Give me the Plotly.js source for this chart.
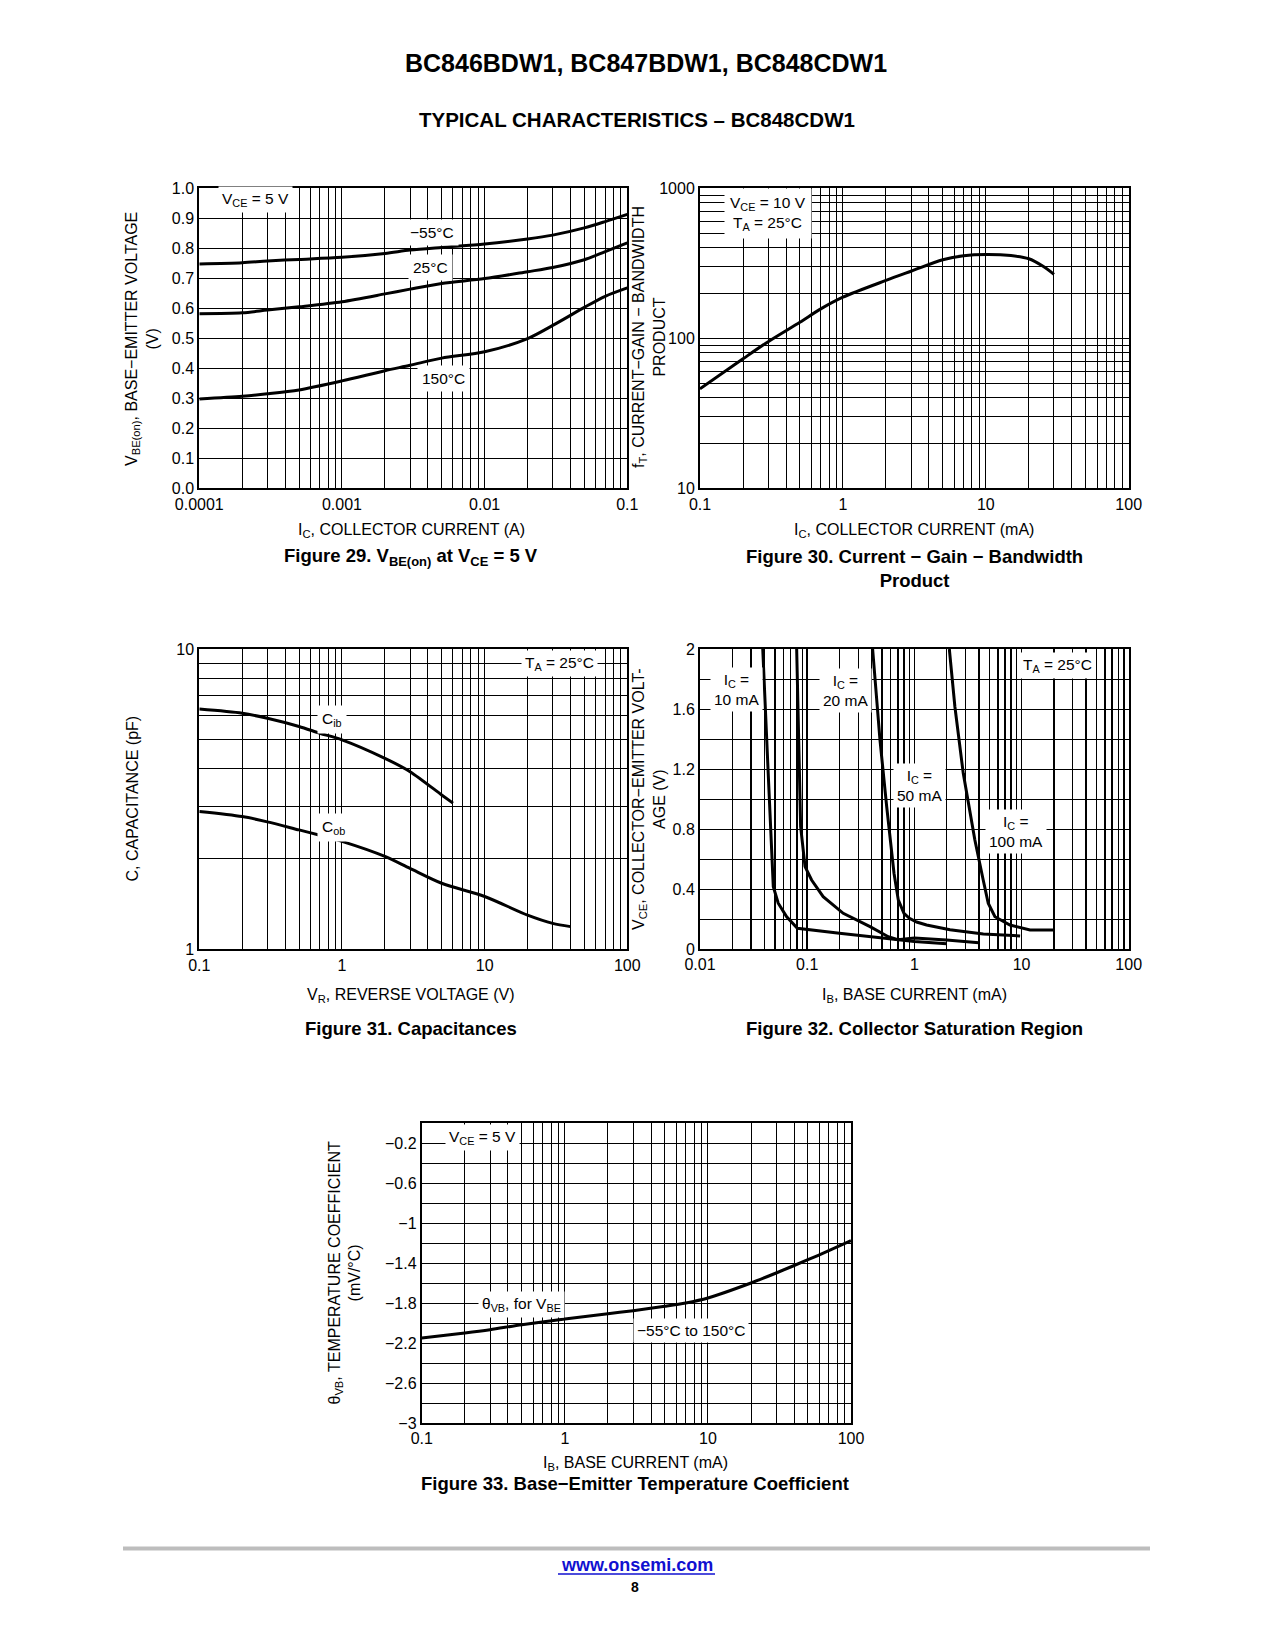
<!DOCTYPE html>
<html>
<head>
<meta charset="utf-8">
<script src="https://cdn.plot.ly/plotly-3.0.1.min.js"></script>
<style>
  html, body { margin: 0; padding: 0; background: #fff; }
  #chart { width: 1275px; height: 1650px; }
</style>
</head>
<body>
<div id="chart"></div>
<script>
// ---------------- DATA ----------------
// Figure 29: VBE(on) vs IC (A)
const ic29      = [0.0001, 0.0002, 0.0003, 0.0005, 0.001, 0.002, 0.003, 0.005, 0.01, 0.02, 0.03, 0.05, 0.07, 0.1];
const vbeM55    = [0.748, 0.752, 0.758, 0.763, 0.770, 0.783, 0.794, 0.803, 0.814, 0.831, 0.844, 0.868, 0.889, 0.913];
const vbe25     = [0.582, 0.585, 0.594, 0.605, 0.622, 0.648, 0.664, 0.683, 0.699, 0.722, 0.736, 0.762, 0.789, 0.818];
const vbe150    = [0.298, 0.307, 0.315, 0.328, 0.358, 0.392, 0.410, 0.434, 0.455, 0.499, 0.543, 0.603, 0.640, 0.668];

// Figure 30: fT vs IC (mA)
const ic30      = [0.1, 0.2, 0.3, 0.5, 0.7, 1, 2, 3, 5, 7, 10, 15, 20, 25, 30];
const ft30      = [46, 73, 95, 128, 157, 188, 243, 280, 334, 355, 362, 356, 339, 303, 267];

// Figure 31: capacitances vs VR (V)
const vrCib     = [0.1, 0.2, 0.3, 0.5, 0.7, 1, 2, 3, 5, 6];
const cib       = [6.32, 6.12, 5.89, 5.53, 5.25, 4.99, 4.33, 3.91, 3.27, 3.07];
const vrCob     = [0.1, 0.2, 0.3, 0.5, 0.7, 1, 2, 3, 5, 10, 20, 30, 40];
const cob       = [2.88, 2.77, 2.66, 2.50, 2.40, 2.29, 2.04, 1.86, 1.66, 1.50, 1.30, 1.22, 1.19];

// Figure 32: VCE vs IB (mA) for several IC
const ib10      = [0.0385, 0.0405, 0.0433, 0.0483, 0.0537, 0.0644, 0.081, 0.2, 0.4, 0.6, 1.0, 2.0];
const vce10     = [2.0, 1.6, 1.17, 0.415, 0.305, 0.215, 0.138, 0.105, 0.080, 0.065, 0.050, 0.035];
const ib20      = [0.0798, 0.0869, 0.0955, 0.110, 0.141, 0.217, 0.386, 0.571, 0.70, 0.85, 1.0, 2.0, 4.0];
const vce20     = [2.0, 0.815, 0.549, 0.460, 0.349, 0.238, 0.149, 0.082, 0.062, 0.070, 0.074, 0.060, 0.042];
const ib50      = [0.408, 0.478, 0.552, 0.646, 0.708, 0.80, 0.90, 1.05, 1.3, 1.73, 2.15, 4.4, 9.7];
const vce50     = [2.0, 1.393, 0.949, 0.505, 0.327, 0.238, 0.205, 0.180, 0.160, 0.140, 0.128, 0.100, 0.087];
const ib100     = [2.12, 2.39, 2.86, 3.67, 4.39, 4.89, 5.65, 7.8, 12.0, 19.8];
const vce100    = [2.0, 1.615, 1.171, 0.727, 0.460, 0.305, 0.215, 0.160, 0.127, 0.127];

// Figure 33: theta VB vs IB (mA)
const ib33      = [0.1, 0.2, 0.3, 0.5, 1, 2, 3, 5, 7, 10, 20, 30, 50, 70, 100];
const theta33   = [-2.15, -2.10, -2.067, -2.017, -1.96, -1.907, -1.877, -1.833, -1.80, -1.75, -1.60, -1.50, -1.367, -1.277, -1.177];

// Tick labels
const x29Vals = [0.0001, 0.001, 0.01, 0.1];
const x29Text = ['0.0001', '0.001', '0.01', '0.1'];
const y29Vals = [0, 0.1, 0.2, 0.3, 0.4, 0.5, 0.6, 0.7, 0.8, 0.9, 1.0];
const y29Text = ['0.0', '0.1', '0.2', '0.3', '0.4', '0.5', '0.6', '0.7', '0.8', '0.9', '1.0'];
const x30Vals = [0.1, 1, 10, 100];
const x30Text = ['0.1', '1', '10', '100'];
const y30Vals = [10, 100, 1000];
const y30Text = ['10', '100', '1000'];
const x31Vals = [0.1, 1, 10, 100];
const x31Text = ['0.1', '1', '10', '100'];
const y31Vals = [1, 10];
const y31Text = ['1', '10'];
const x32Vals = [0.01, 0.1, 1, 10, 100];
const x32Text = ['0.01', '0.1', '1', '10', '100'];
const y32Vals = [0, 0.4, 0.8, 1.2, 1.6, 2];
const y32Text = ['0', '0.4', '0.8', '1.2', '1.6', '2'];
const x33Vals = [0.1, 1, 10, 100];
const x33Text = ['0.1', '1', '10', '100'];
const y33Vals = [-0.2, -0.6, -1, -1.4, -1.8, -2.2, -2.6, -3];
const y33Text = ['\u22120.2', '\u22120.6', '\u22121', '\u22121.4', '\u22121.8', '\u22122.2', '\u22122.6', '\u22123'];

// ---------------- LAYOUT HELPERS ----------------
const W = 1275, H = 1650;
const FONT = 'Liberation Sans, Arial, Helvetica, sans-serif';
function dx(a, b) { return [a / W, b / W]; }
function dy(top, bot) { return [1 - bot / H, 1 - top / H]; }

function axis(type, domain, range, tv, tt, anchor, opts) {
  opts = opts || {};
  const a = {
    type: type, domain: domain, range: range, anchor: anchor,
    tickmode: 'array', tickvals: tv, ticktext: tt,
    showgrid: true, gridcolor: '#000', gridwidth: opts.gw || 1,
    showline: true, mirror: true, linecolor: '#000', linewidth: 2,
    ticks: '', zeroline: false, fixedrange: true,
    tickfont: { family: FONT, size: 16, color: '#000' }
  };
  if (opts.minor) {
    a.minor = Object.assign({ showgrid: true, gridcolor: '#000', gridwidth: opts.gw || 1, ticks: '' }, opts.minor);
  }
  return a;
}

function line(x, y, xa, ya, shape) {
  return {
    x: x, y: y, xaxis: xa, yaxis: ya, type: 'scatter', mode: 'lines',
    line: { color: '#000', width: 3, shape: shape || 'spline', smoothing: 0.8 },
    showlegend: false, hoverinfo: 'skip'
  };
}

function ann(text, px, py, o) {
  o = o || {};
  return Object.assign({
    text: text, xref: 'paper', yref: 'paper', x: px / W, y: 1 - py / H,
    xanchor: 'center', yanchor: 'middle', showarrow: false,
    font: { family: FONT, size: o.size || 15.5, color: o.color || '#000' },
    align: 'center'
  }, o.extra || {});
}
function box(text, px, py, pad) {
  return ann(text, px, py, { extra: { bgcolor: '#fff', borderpad: pad === undefined ? 3 : pad } });
}

// ---------------- TRACES ----------------
const traces = [
  line(ic29, vbeM55, 'x', 'y'),
  line(ic29, vbe25, 'x', 'y'),
  line(ic29, vbe150, 'x', 'y'),
  line(ic30, ft30, 'x2', 'y2'),
  line(vrCib, cib, 'x3', 'y3'),
  line(vrCob, cob, 'x3', 'y3'),
  line(ib10, vce10, 'x4', 'y4', 'linear'),
  line(ib20, vce20, 'x4', 'y4', 'linear'),
  line(ib50, vce50, 'x4', 'y4', 'linear'),
  line(ib100, vce100, 'x4', 'y4', 'linear'),
  line(ib33, theta33, 'x5', 'y5')
];

const logMinor = { minor: { dtick: 'D1' } };

const layout = {
  width: W, height: H,
  margin: { l: 0, r: 0, t: 0, b: 0 },
  paper_bgcolor: '#fff', plot_bgcolor: '#fff',
  showlegend: false,
  font: { family: FONT, color: '#000' },

  xaxis:  axis('log', dx(199.3, 627.3), [-4, -1], x29Vals, x29Text, 'y', logMinor),
  yaxis:  axis('linear', dy(188.3, 488.3), [0, 1], y29Vals, y29Text, 'x'),

  xaxis2: axis('log', dx(700, 1128.7), [-1, 2], x30Vals, x30Text, 'y2', logMinor),
  yaxis2: axis('log', dy(188.3, 488.3), [1, 3], y30Vals, y30Text, 'x2', logMinor),

  xaxis3: axis('log', dx(199.3, 627.3), [-1, 2], x31Vals, x31Text, 'y3', logMinor),
  yaxis3: axis('log', dy(649.3, 949.3), [0, 1], y31Vals, y31Text, 'x3', logMinor),

  xaxis4: axis('log', dx(700, 1128.7), [-2, 2], x32Vals, x32Text, 'y4', { minor: { dtick: 'D1' }, gw: 1.5 }),
  yaxis4: axis('linear', dy(649, 949), [0, 2], y32Vals, y32Text, 'x4', { minor: { dtick: 0.2, tick0: 0 } }),

  xaxis5: axis('log', dx(421.8, 851), [-1, 2], x33Vals, x33Text, 'y5', logMinor),
  yaxis5: axis('linear', dy(1123, 1423), [-3, 0], y33Vals, y33Text, 'x5', { minor: { dtick: 0.2, tick0: 0 } }),

  shapes: [
    { type: 'line', xref: 'paper', yref: 'paper', x0: 123 / W, x1: 1150 / W, y0: 1 - 1548.5 / H, y1: 1 - 1548.5 / H,
      line: { color: '#bdbdbd', width: 4 } },
    { type: 'line', xref: 'paper', yref: 'paper', x0: 558 / W, x1: 715 / W, y0: 1 - 1574 / H, y1: 1 - 1574 / H,
      line: { color: '#1010d0', width: 1.5 } }
  ],

  annotations: [
    // Page header
    ann('<b>BC846BDW1, BC847BDW1, BC848CDW1</b>', 646, 63, { size: 25 }),
    ann('<b>TYPICAL CHARACTERISTICS \u2013 BC848CDW1</b>', 637, 119, { size: 20.5 }),

    // Figure 29
    ann('V<sub>BE(on)</sub>, BASE\u2212EMITTER VOLTAGE<br>(V)', 142, 339, { size: 16, extra: { textangle: -90 } }),
    ann('I<sub>C</sub>, COLLECTOR CURRENT (A)', 411.3, 530, { size: 16 }),
    ann('<b>Figure 29. V<sub>BE(on)</sub> at V<sub>CE</sub> = 5 V</b>', 411.3, 557, { size: 18.5 }),
    box('V<sub>CE</sub> = 5 V', 255, 199),
    box('\u221255\u00b0C', 432, 232, 4),
    box('25\u00b0C', 431, 268, 4),
    box('150\u00b0C', 443, 378, 4),

    // Figure 30
    ann('f<sub>T</sub>, CURRENT\u2212GAIN \u2212 BANDWIDTH<br>PRODUCT', 649, 337, { size: 16, extra: { textangle: -90 } }),
    ann('I<sub>C</sub>, COLLECTOR CURRENT (mA)', 914, 530, { size: 16 }),
    ann('<b>Figure 30. Current \u2212 Gain \u2212 Bandwidth<br>Product</b>', 914, 568, { size: 18.5 }),
    box('V<sub>CE</sub> = 10 V<br>T<sub>A</sub> = 25\u00b0C', 768, 214, 5),

    // Figure 31
    ann('C, CAPACITANCE (pF)', 131.5, 799, { size: 16, extra: { textangle: -90 } }),
    ann('V<sub>R</sub>, REVERSE VOLTAGE (V)', 411.3, 995, { size: 16 }),
    ann('<b>Figure 31. Capacitances</b>', 411.3, 1028, { size: 18.5 }),
    box('T<sub>A</sub> = 25\u00b0C', 559, 664),
    box('C<sub>ib</sub>', 332, 720, 4),
    box('C<sub>ob</sub>', 333, 827, 4),

    // Figure 32
    ann('V<sub>CE</sub>, COLLECTOR\u2212EMITTER VOLT-<br>AGE (V)', 649, 799, { size: 16, extra: { textangle: -90 } }),
    ann('I<sub>B</sub>, BASE CURRENT (mA)', 914, 995, { size: 16 }),
    ann('<b>Figure 32. Collector Saturation Region</b>', 914, 1028, { size: 18.5 }),
    box('I<sub>C</sub> =<br>10 mA', 736, 689, 3),
    box('I<sub>C</sub> =<br>20 mA', 845, 690, 3),
    box('I<sub>C</sub> =<br>50 mA', 919, 785, 3),
    box('I<sub>C</sub> =<br>100 mA', 1016, 831, 3),
    box('T<sub>A</sub> = 25\u00b0C', 1057, 666),

    // Figure 33
    ann('\u03b8<sub>VB</sub>, TEMPERATURE COEFFICIENT<br>(mV/\u00b0C)', 344.5, 1273, { size: 16, extra: { textangle: -90 } }),
    ann('I<sub>B</sub>, BASE CURRENT (mA)', 635.4, 1463, { size: 16 }),
    ann('<b>Figure 33. Base\u2212Emitter Temperature Coefficient</b>', 635.4, 1483.5, { size: 18.5 }),
    box('V<sub>CE</sub> = 5 V', 482, 1137),
    box('\u03b8<sub>VB</sub>, for V<sub>BE</sub>', 521, 1304),
    box('\u221255\u00b0C to 150\u00b0C', 691, 1330),

    // Footer
    ann('<b>www.onsemi.com</b>', 636.5, 1565, { size: 18, color: '#1010d0' }),
    ann('<b>8</b>', 635.4, 1586.5, { size: 14 })
  ]
};

Plotly.newPlot('chart', traces, layout, { staticPlot: true, displayModeBar: false });
</script>
</body>
</html>
